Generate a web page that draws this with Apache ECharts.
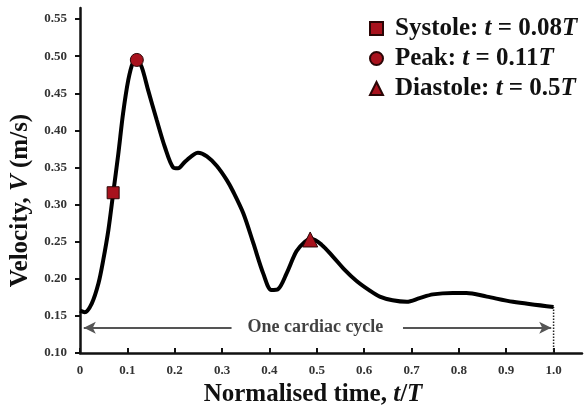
<!DOCTYPE html>
<html>
<head>
<meta charset="utf-8">
<script src="https://cdn.jsdelivr.net/npm/echarts@6/dist/echarts.min.js"></script>
<style>html,body{margin:0;padding:0;background:#fff}#c{width:585px;height:408px}</style>
</head>
<body>
<div id="c"></div>
<script>
var curve = [[0,0.157],[0.01,0.155],[0.025,0.167],[0.039,0.194],[0.049,0.225],[0.060,0.266],[0.070,0.315],[0.081,0.369],[0.091,0.423],[0.102,0.468],[0.112,0.492],[0.120,0.495],[0.130,0.486],[0.144,0.454],[0.162,0.414],[0.179,0.378],[0.197,0.350],[0.207,0.349],[0.222,0.358],[0.249,0.370],[0.268,0.365],[0.289,0.352],[0.310,0.333],[0.323,0.318],[0.345,0.288],[0.366,0.248],[0.387,0.207],[0.404,0.185],[0.418,0.186],[0.436,0.207],[0.457,0.237],[0.475,0.250],[0.488,0.254],[0.51,0.246],[0.534,0.230],[0.559,0.212],[0.584,0.197],[0.612,0.184],[0.633,0.176],[0.660,0.171],[0.690,0.169],[0.717,0.174],[0.745,0.179],[0.787,0.181],[0.816,0.181],[0.859,0.176],[0.914,0.169],[1.0,0.162]];
var systole = [[0.07,0.316]];
var peak = [[0.12,0.495]];
var diastole = [[0.486,0.253]];
var xTicks = [0,0.1,0.2,0.3,0.4,0.5,0.6,0.7,0.8,0.9,1.0];
var yTicks = [0.10,0.15,0.20,0.25,0.30,0.35,0.40,0.45,0.50,0.55];
var arrowLeft = [[0.008,0.134],[0.32,0.134]];
var arrowRight = [[0.682,0.134],[0.995,0.134]];
var cycleEnd = [[1.0,0.1],[1.0,0.162]];
var cycleLabel = [[0.497,0.134]];
var legendNames = ['Systole','Peak','Diastole'];
var legendTimes = ['0.08','0.11','0.5'];

var serif = '"Liberation Serif","DejaVu Serif",serif';
var red = '#a8121d';
var edge = '#2a0606';
var chart = echarts.init(document.getElementById('c'), null, {renderer:'canvas'});
function rich(sz){return {b:{fontFamily:serif,fontSize:sz,fontWeight:'bold',color:'#111'},i:{fontFamily:serif,fontSize:sz,fontWeight:'bold',fontStyle:'italic',color:'#111'}};}
var mk = {color:red,borderColor:edge,borderWidth:1,opacity:1};
chart.setOption({
  animation:false,
  backgroundColor:'#fff',
  grid:{left:80,right:3,top:8,bottom:55,containLabel:false,outerBoundsMode:'none'},
  legend:{
    orient:'vertical', left:364, top:11, itemWidth:13, itemHeight:13, itemGap:5,
    data:legendNames,
    formatter:function(n){var i=legendNames.indexOf(n);return '{b|'+n+': }{i|t}{b| = '+legendTimes[i]+'}{i|T}';},
    textStyle:{fontFamily:serif,fontSize:25,fontWeight:'bold',color:'#111',padding:[0,0,0,7],rich:rich(25)}
  },
  xAxis:{type:'value',min:0,max:1.06,
    name:'{b|Normalised time, }{i|t}{b|/}{i|T}',nameLocation:'middle',nameGap:28,
    nameTextStyle:{padding:[0,36,0,0],rich:rich(25)},
    axisLine:{show:true,onZero:false,lineStyle:{color:'#111',width:2.5}},
    axisTick:{show:true,inside:true,length:5,customValues:xTicks,lineStyle:{color:'#111',width:2}},
    axisLabel:{customValues:xTicks,margin:11,fontFamily:serif,fontSize:13,fontWeight:'bold',color:'#333',
      formatter:function(v){return v===0?'0':v.toFixed(1);}},
    splitLine:{show:false}},
  yAxis:{type:'value',min:0.1,max:0.565,
    name:'{b|Velocity, }{i|V}{b| (m/s)}',nameLocation:'middle',nameGap:46,nameRotate:90,
    nameTextStyle:{padding:[0,40,0,0],rich:rich(25)},
    axisLine:{show:true,onZero:false,lineStyle:{color:'#111',width:2.5}},
    axisTick:{show:true,inside:false,length:5,customValues:yTicks,lineStyle:{color:'#111',width:2}},
    axisLabel:{customValues:yTicks,margin:13,fontFamily:serif,fontSize:13,fontWeight:'bold',color:'#333',
      formatter:function(v){return v.toFixed(2);}},
    splitLine:{show:false}},
  series:[
    {type:'line',data:curve,smooth:0.3,symbol:'none',lineStyle:{color:'#000',width:4},z:2},
    {type:'line',data:[],symbol:'none',silent:true,
      markLine:{silent:true,symbol:['arrow','none'],symbolSize:[9,12],label:{show:false},
        lineStyle:{color:'#555',width:1.8,type:'solid'},
        data:[[{coord:arrowLeft[0]},{coord:arrowLeft[1]}]]}},
    {type:'line',data:[],symbol:'none',silent:true,
      markLine:{silent:true,symbol:['none','arrow'],symbolSize:[9,12],label:{show:false},
        lineStyle:{color:'#555',width:1.8,type:'solid'},
        data:[[{coord:arrowRight[0]},{coord:arrowRight[1]}]]}},
    {type:'line',data:cycleEnd,symbol:'none',lineStyle:{color:'#222',width:1.5,type:'dotted'},z:1},
    {type:'scatter',data:cycleLabel,symbolSize:0,silent:true,
      label:{show:true,position:'inside',formatter:'One cardiac cycle',fontFamily:serif,fontSize:18,fontWeight:'bold',color:'#111'}},
    {name:'Systole',type:'scatter',data:systole,symbol:'rect',symbolSize:12,itemStyle:mk,z:5},
    {name:'Peak',type:'scatter',data:peak,symbol:'circle',symbolSize:13,itemStyle:mk,z:5},
    {name:'Diastole',type:'scatter',data:diastole,symbol:'triangle',symbolSize:15,itemStyle:mk,z:5}
  ]
});
</script>
</body>
</html>
